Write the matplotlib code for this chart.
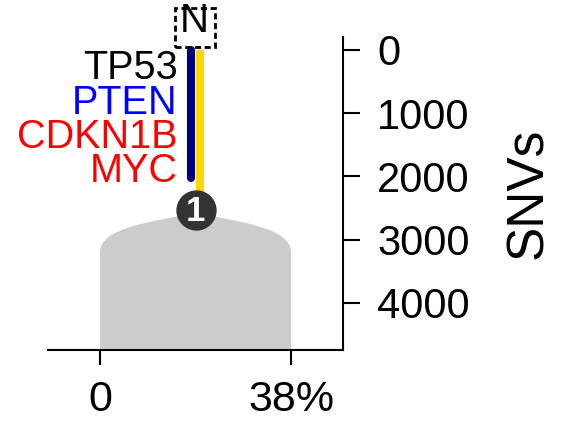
import matplotlib
matplotlib.use("Agg")
import matplotlib.pyplot as plt
from matplotlib.path import Path
from matplotlib.patches import PathPatch, Rectangle
from matplotlib.transforms import ScaledTranslation, Affine2D

plt.rcParams['font.family'] = ['Liberation Sans', 'DejaVu Sans']

# ---- data ----
genes = ["TP53", "PTEN", "CDKN1B", "MYC"]
gene_colors = ["black", "blue", "red", "red"]
clone_ids = ["1"]
clone_ccf = [38]            # % cancer cell fraction
trunk_start = [0]           # SNVs
navy_end = [2030]           # SNVs
node_snvs = [2530]          # SNVs
ytick_vals = [0, 1000, 2000, 3000, 4000]
xtick_vals = [0, 38]
xtick_labels = ["0", "38%"]
root_label = "N"

fig = plt.figure(figsize=(5.64, 4.22), dpi=100)
ax = fig.add_axes([48/564, 1-350/422, 295/564, 313/422])
ax.set_xlim(-10.35, 48.35)
ax.set_ylim(4743, -205)

def off(dx, dy):
    return ax.transData + ScaledTranslation(dx/72, dy/72, fig.dpi_scale_trans)

ccf = clone_ccf[0]
xc = ccf / 2
node = node_snvs[0]
ybot = ax.get_ylim()[0]

# clone shape (rounded "bell")
peak = node + 47
side = node + 664
verts = [(0, ybot), (0, side),
         (0, node + 284), (ccf*0.262, node + 189), (xc, peak),
         (ccf - ccf*0.262, node + 189), (ccf, node + 284), (ccf, side),
         (ccf, ybot), (0, ybot)]
codes = [Path.MOVETO, Path.LINETO,
         Path.CURVE4, Path.CURVE4, Path.CURVE4,
         Path.CURVE4, Path.CURVE4, Path.CURVE4,
         Path.LINETO, Path.CLOSEPOLY]
ax.add_patch(PathPatch(Path(verts, codes), facecolor='#cdcccb', edgecolor='none', zorder=1))

# trunk lines
ax.plot([xc, xc], [trunk_start[0], node], color='#FFD700', lw=5.8,
        solid_capstyle='butt', transform=off(3.0, 0), zorder=3)
ax.plot([xc, xc], [trunk_start[0], navy_end[0]], color='#000080', lw=5.8,
        solid_capstyle='round', transform=off(-3.0, 0), zorder=3)

# node
ax.scatter([xc], [node], s=(28)**2, color='#333333', zorder=5, clip_on=False)
ax.text(xc, node, clone_ids[0], color='white', fontsize=25, fontweight='bold',
        ha='center', va='center', zorder=6, transform=off(0, -1))

# root label with dashed box
ax.text(xc, trunk_start[0], root_label, fontsize=29, ha='center', va='baseline',
        transform=off(-1, 13), zorder=6, clip_on=False)
pt = Affine2D().scale(1/72) + fig.dpi_scale_trans
ox, oy = ax.transData.transform((xc, trunk_start[0]))
rect = Rectangle((-14.5, 2.2), 28.5, 28, fill=False, lw=2.0, ls=(0, (2.2, 1.3)),
                 edgecolor='black', clip_on=False, zorder=6)
rect.set_transform(pt + Affine2D().translate(ox, oy))
ax.add_patch(rect)

# gene labels
n = len(genes)
for i, (g, c) in enumerate(zip(genes, gene_colors)):
    ax.text(xc, navy_end[0], g, color=c, fontsize=28.5, ha='right', va='baseline',
            transform=off(-13, (n - 1 - i) * 24.6 - 2.5), zorder=4)

# axes styling
for s in ['left', 'top']:
    ax.spines[s].set_visible(False)
for s in ['bottom', 'right']:
    ax.spines[s].set_linewidth(1.5)
ax.yaxis.tick_right()
ax.yaxis.set_label_position('right')
ax.set_yticks(ytick_vals)
ax.set_xticks(xtick_vals)
ax.set_xticklabels(xtick_labels)
ax.tick_params(axis='y', length=12, width=1.5, pad=12.5, labelsize=30)
ax.tick_params(axis='x', length=11, width=1.5, pad=10.5, labelsize=31)
ax.set_ylabel("SNVs", fontsize=37, rotation=90, labelpad=25)
ax.patch.set_visible(False)

fig.savefig("out.png", dpi=100)
